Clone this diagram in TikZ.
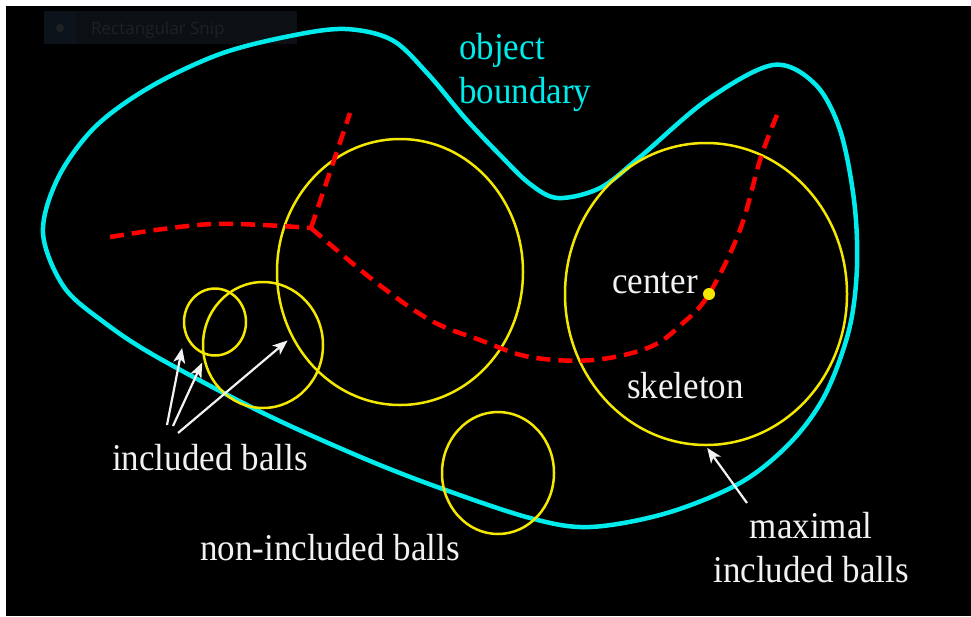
\documentclass[tikz,border=0pt]{standalone}
\usepackage{fontspec}
\setmainfont{Liberation Serif}[FakeStretch=0.926]
\newfontfamily\snipfont{Open Sans}
\usetikzlibrary{arrows.meta,shapes.geometric}
\definecolor{bndcyan}{RGB}{0,235,235}
\definecolor{skelred}{RGB}{255,0,0}
\definecolor{ballyellow}{RGB}{245,232,0}
\definecolor{lblwhite}{RGB}{242,242,242}
\definecolor{snipbg}{RGB}{12,15,19}
\definecolor{snipside}{RGB}{13,19,27}
\definecolor{snipfg}{RGB}{30,34,38}
\tikzset{
  boundary/.style={
    draw=bndcyan,
    line width=4.5pt,
  },
  skel/.style={
    draw=skelred,
    line width=4.5pt,
    dash pattern=on 14pt off 8pt,
  },
  ball/.style={
    draw=ballyellow,
    ellipse,
    inner sep=0pt,
    line width=2.5pt,
  },
  pointer/.style={
    draw=lblwhite,
    line width=2.2pt,
    -{Stealth[length=15pt,width=12pt,inset=4pt]},
  },
  lbl/.style={
    text=lblwhite,
    inner sep=0pt,
    font=\fontsize{37.8}{44}\selectfont,
  },
}
\begin{document}
\begin{tikzpicture}[x=1pt,y=-1pt]
  \useasboundingbox (0,0) rectangle (971,616);
  \fill[white] (0,0) rectangle (971,616);
  \fill[black] (6,6) rectangle (971,616);
  % snipping tool leftover
  \node[fill=snipbg, anchor=north west, inner sep=0pt,
        minimum width=253pt, minimum height=33pt] (snip) at (44,11) {};
  \fill[snipside] (snip.north west) rectangle ++(32,33);
  \fill[snipfg] (60,28) circle (4pt);
  \node[text=snipfg, font=\snipfont\fontsize{17}{20}\selectfont,
        anchor=base west, inner sep=0pt] (sniptxt) at (91,34) {Rectangular Snip};
  % object boundary
  \draw[boundary] plot[smooth cycle, tension=0.55] coordinates {
    (43,233) (58,178) (95,127) (150,87) (220,54) (290,36) (345,29)
    (392,40) (428,74) (465,118) (500,155) (530,184) (558,198)
    (600,188) (640,157) (707,100) (773,65) (815,84) (840,130)
    (854,200) (857,267) (849,330) (825,395) (790,443) (740,483)
    (667,513) (590,527) (530,518) (440,488) (363,458) (263,413) (157,357)
    (105,323) (64,287)};
  % balls
  \node[ball, minimum width=246pt, minimum height=266pt] (bigL) at (400,272) {};
  \node[ball, minimum width=282pt, minimum height=302pt] (bigR) at (706,294) {};
  \node[ball, minimum width=62pt, minimum height=67pt] (small) at (215,322) {};
  \node[ball, minimum width=120pt, minimum height=126pt] (medium) at (263,345) {};
  \node[ball, minimum width=112pt, minimum height=122pt] (outside) at (498,473) {};
  % skeleton
  \coordinate (junc) at (311,228);
  \draw[skel] plot[smooth, tension=0.6] coordinates {
    (110,237) (163,229) (213,224) (263,225) (311,228)};
  \draw[skel] (junc) -- (350,113);
  \draw[skel] plot[smooth, tension=0.6] coordinates {
    (311,228) (373,280) (430,320) (480,340) (530,357) (593,360) (650,347)
    (683,323) (709,294) (740,230) (760,160) (777,115)};
  \node[circle, fill=ballyellow, minimum size=12pt, inner sep=0pt] (ctr) at (709,294) {};
  % labels
  \node[lbl, text=bndcyan, align=left, anchor=base west] (objlbl) at (459,103) {object\\boundary};
  \node[lbl, anchor=base west] (ctrlbl) at (612,293) {center};
  \node[lbl, anchor=base west] (skellbl) at (627,398) {skeleton};
  \node[lbl, anchor=base west] (incllbl) at (112,470) {included balls};
  \node[lbl, anchor=base west] (nonlbl) at (200,560) {non-included balls};
  \node[lbl, align=center, anchor=base] (maxlbl) at (811,582) {maximal\\included balls};
  % pointers
  \coordinate (t1) at (167,425);
  \coordinate (t2) at (173,426);
  \coordinate (t3) at (178,433);
  \coordinate (t4) at (747,503);
  \draw[pointer, shorten >=14pt] (t1) -- (small.202);
  \draw[pointer, shorten >=3pt] (t2) -- (medium.194);
  \draw[pointer, shorten >=5pt] (t3) -- (bigL.211);
  \draw[pointer, shorten >=2pt] (t4) -- (bigR.south);
\end{tikzpicture}
\end{document}
